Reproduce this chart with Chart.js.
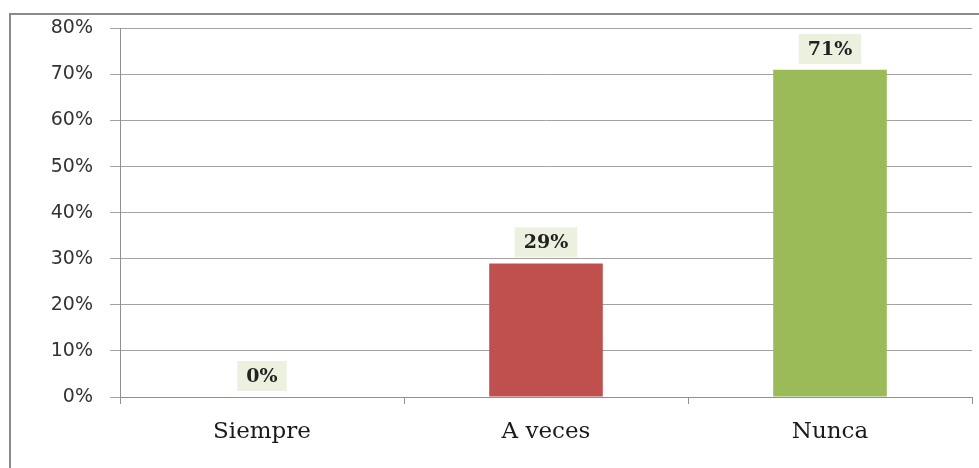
<!DOCTYPE html>
<html>
<head>
<meta charset="utf-8">
<style>
  html, body { margin: 0; padding: 0; background: #fff; }
  canvas { display: block; }
</style>
<script src="https://cdn.jsdelivr.net/npm/chart.js@4"></script>
</head>
<body>
<canvas id="chart" width="979" height="468"></canvas>
<script>
"use strict"

// values
const categories = ["Siempre", "A veces", "Nunca"];
const percentages = [0, 29, 71];
const barColors = ["#4F81BD", "#C0504D", "#9BBB59"];
const yTicks = [0, 10, 20, 30, 40, 50, 60, 70, 80];

// grey frame round the chart (only top and left edges show)
const framePlugin = {
  id: "frame",
  beforeDraw(chart) {
    const ctx = chart.ctx;
    ctx.save();
    ctx.strokeStyle = "#8a8a8a";
    ctx.lineWidth = 2;
    ctx.beginPath();
    ctx.moveTo(10, chart.height + 5);
    ctx.lineTo(10, 14);
    ctx.lineTo(chart.width + 5, 14);
    ctx.stroke();
    ctx.restore();
  }
};

// value labels on little light green boxes above each bar
const labelPlugin = {
  id: "valueLabels",
  afterDatasetsDraw(chart) {
    const ctx = chart.ctx;
    const meta = chart.getDatasetMeta(0);
    ctx.save();
    ctx.font = "bold 19px 'DejaVu Serif'";
    ctx.textAlign = "center";
    ctx.textBaseline = "middle";
    meta.data.forEach((bar, i) => {
      const text = percentages[i] + "%";
      const w = ctx.measureText(text).width + 18;
      const h = 30;
      const cx = bar.x;
      const bottom = bar.y - 6;
      ctx.fillStyle = "#EBF1DE";
      ctx.fillRect(cx - w / 2, bottom - h, w, h);
      ctx.fillStyle = "#222";
      ctx.fillText(text, cx, bottom - h / 2 + 1);
    });
    ctx.restore();
  }
};

const data = {
  labels: categories,
  datasets: [{
    data: percentages,
    backgroundColor: barColors,
    borderWidth: 0,
    categoryPercentage: 1,
    barPercentage: 0.4
  }]
};

const config = {
  type: "bar",
  data: data,
  options: {
    responsive: false,
    animation: false,
    layout: { padding: { left: 0, top: 27, right: 7, bottom: 0 } },
    plugins: {
      legend: { display: false },
      tooltip: { enabled: false }
    },
    scales: {
      x: {
        grid: {
          offset: true,
          drawOnChartArea: false,
          tickLength: 7,
          color: "#909090"
        },
        border: { color: "#909090" },
        ticks: {
          padding: 14,
          color: "#1a1a1a",
          font: { family: "'DejaVu Serif'", size: 23 }
        },
        afterFit(scale) { scale.height = 71; }
      },
      y: {
        min: 0,
        max: 80,
        afterBuildTicks(scale) { scale.ticks = yTicks.map(v => ({ value: v })); },
        grid: { color: "#a2a2a2", tickLength: 10 },
        border: { color: "#909090" },
        ticks: {
          padding: 17,
          color: "#333",
          font: { family: "'DejaVu Sans'", size: 19 },
          callback: v => v + "%"
        },
        afterFit(scale) { scale.width = 120; }
      }
    }
  },
  plugins: [framePlugin, labelPlugin]
};

const chart = new Chart(document.querySelector("#chart"), config);
</script>
</body>
</html>
